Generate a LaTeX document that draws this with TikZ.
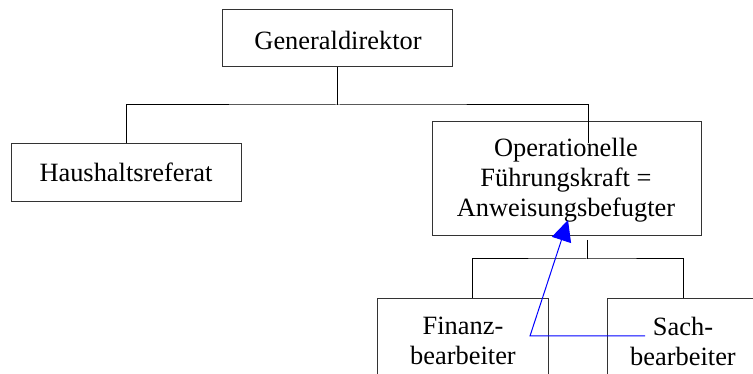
\documentclass[tikz,border=0pt]{standalone}
\usepackage{fontspec}
\setmainfont{Liberation Serif}
\usetikzlibrary{arrows.meta}
\begin{document}
\begin{tikzpicture}[x=1pt,y=-1pt,
  box/.style={draw=black!80, line width=1pt, inner sep=0pt, rectangle},
  lbl/.style={font=\fontsize{26.4}{30}\selectfont, align=center, inner sep=0pt},
  wire/.style={draw=black, line width=1pt},
  pointer/.style={draw=blue, line width=1pt}]
\useasboundingbox (0,0) rectangle (753,374);
% boxes
\node[box, minimum width=230pt, minimum height=57pt] (gd) at (337.5,38.5) {};
\node[lbl] (gdt) at (338,40) {Generaldirektor};
\node[box, minimum width=230pt, minimum height=58pt] (hr) at (126,173) {};
\node[lbl] (hrt) at (126,172) {Haushaltsreferat};
\node[box, minimum width=269pt, minimum height=114pt] (op) at (566.5,179) {};
\node[lbl] (opt) at (566,180) {Operationelle\\Führungskraft =\\Anweisungsbefugter};
\clip (0,0) rectangle (753,374);
\node[box, minimum width=171pt, minimum height=120pt, anchor=north west] (fb) at (377,298) {};
\node[lbl] (fbt) at (463,341) {Finanz-\\bearbeiter};
\node[box, minimum width=200pt, minimum height=120pt, anchor=north west] (sb) at (607,298) {};
\node[lbl] (sbt) at (683,341) {Sach-\\bearbeiter};
% tree connectors
\coordinate (j1) at (337.5,105);
\coordinate (opin) at (588,143);
\draw[wire] (gd.south) -- (j1);
\draw[wire] (hr.north) |- (j1) -| (opin);
\coordinate (j2) at (587,259);
\coordinate (opout) at (587,240);
\draw[wire] (opout) -- (j2);
\draw[wire] (fb.north -| 472,0) |- (j2) -| (sb.north -| 683,0);
% blue pointer
\coordinate (pa) at (645,336);
\coordinate (pb) at (530,336);
\coordinate (pc) at (568,220);
\draw[pointer, -{Triangle[length=21pt,width=20pt]}] (pa) -- (pb) -- (pc);
\end{tikzpicture}
\end{document}
